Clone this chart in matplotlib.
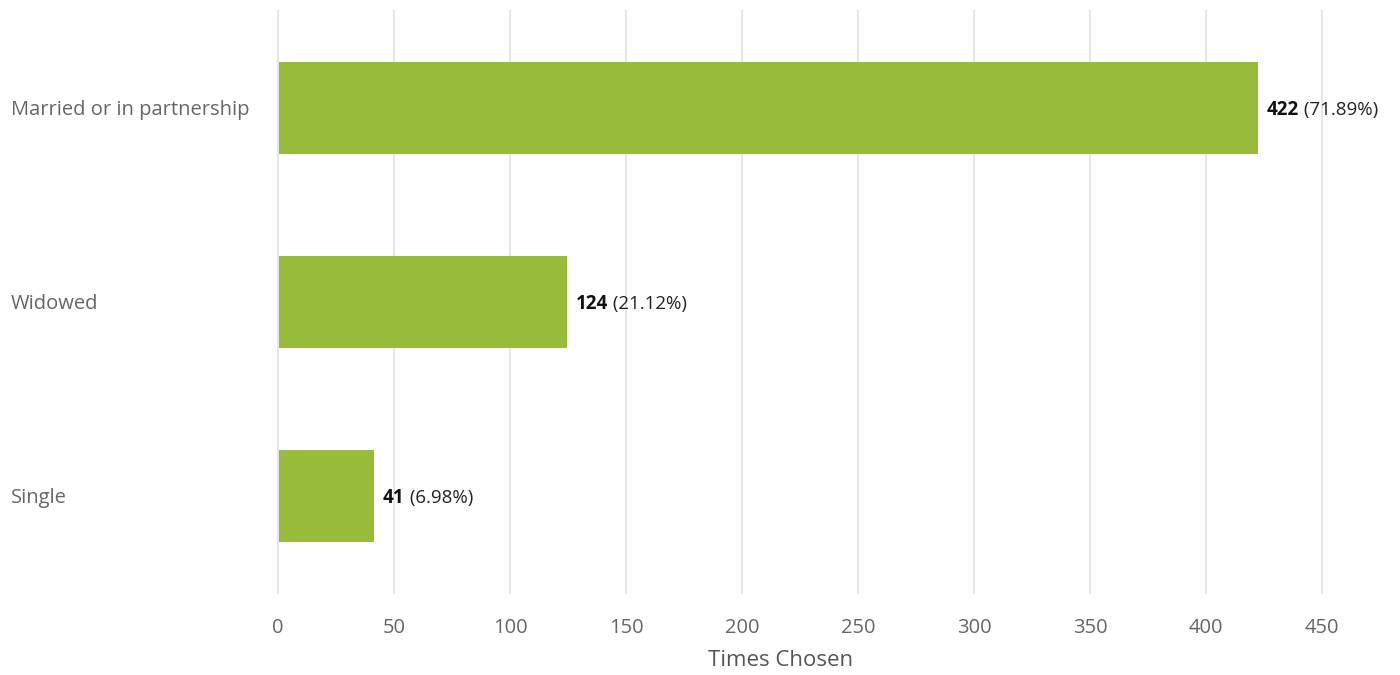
import matplotlib
matplotlib.use("Agg")
import matplotlib.pyplot as plt
from matplotlib.transforms import blended_transform_factory, offset_copy

categories = ["Married or in partnership", "Widowed", "Single"]
counts = [422, 124, 41]
percents = ["71.89%", "21.12%", "6.98%"]
xticks = [0, 50, 100, 150, 200, 250, 300, 350, 400, 450]

plt.rcParams['font.family'] = ['Open Sans', 'DejaVu Sans']

W, H = 1400, 675
fig = plt.figure(figsize=(W / 100, H / 100), dpi=100)
ax = fig.add_axes([278 / W, 1 - 593 / H, (1322 - 278) / W, (593 - 11) / H])

ypos = list(range(len(categories)))
ax.barh(ypos, counts, height=0.475, left=0.4, color="#99bb3b", zorder=3)
ax.set_xlim(0, 450)
ax.set_ylim(2.5, -0.5)
ax.set_xticks(xticks)
ax.set_xticklabels([str(t) for t in xticks])
ax.set_yticks([])
ax.grid(axis='x', color='#e6e6e6', linewidth=1.5, zorder=0)
for gl in ax.get_xgridlines():
    gl.set_clip_on(False)
for s in ax.spines.values():
    s.set_visible(False)
ax.tick_params(axis='x', length=0, pad=18, labelsize=14.5, labelcolor='#666666')

tr = blended_transform_factory(fig.transFigure, ax.transData)
tr = offset_copy(tr, fig=fig, x=0, y=-2, units='dots')
for y, c in zip(ypos, categories):
    ax.text(11 / W, y, c, transform=tr, ha='left', va='center', fontsize=14.5,
            color='#666666')

for y, v, p in zip(ypos, counts, percents):
    t = ax.annotate(str(v), xy=(v, y), xytext=(10, -2), textcoords='offset pixels',
                    ha='left', va='center', fontsize=13.5, fontweight='bold',
                    color='#111111', annotation_clip=False)
    ax.annotate(" (" + p + ")", xy=(1, 0.5), xycoords=t, ha='left', va='center',
                fontsize=13.5, color='#222222', annotation_clip=False)

fig.text(781 / W, 1 - 660 / H, "Times Chosen", ha='center', va='center',
         fontsize=16, color='#555555')

fig.savefig("out.png", dpi=100)
